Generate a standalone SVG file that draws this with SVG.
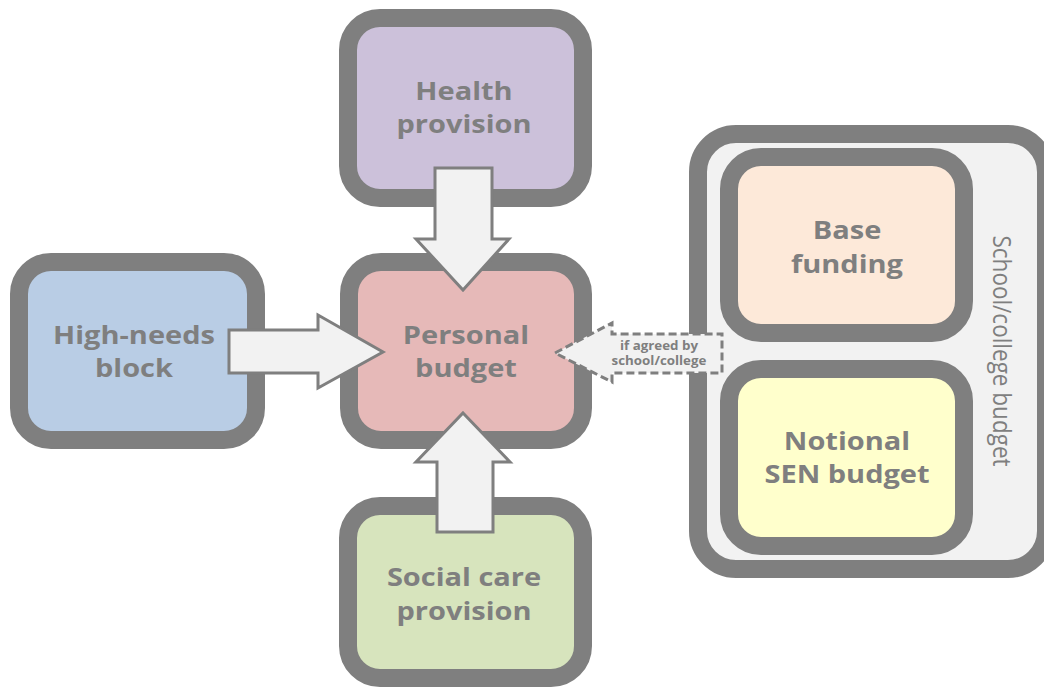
<svg xmlns="http://www.w3.org/2000/svg" width="1044" height="688" viewBox="0 0 1044 688">
<style>
.box{stroke:#7f7f7f;stroke-width:18}
.lbl{font-family:"Open Sans","Liberation Sans",sans-serif;font-weight:bold;font-size:25px;fill:#7f7f7f;text-anchor:middle}
.small{font-family:"Open Sans","Liberation Sans",sans-serif;font-weight:bold;font-size:11.5px;fill:#7f7f7f;text-anchor:middle}
.side{font-family:"Open Sans","Liberation Sans",sans-serif;font-size:22.5px;fill:#7f7f7f;text-anchor:middle}
.arr{fill:#f2f2f2;stroke:#7f7f7f;stroke-width:3;stroke-linejoin:miter}
.dash{fill:#f2f2f2;stroke:#7f7f7f;stroke-width:3;stroke-dasharray:8 4}
</style>
<rect width="1044" height="688" fill="#ffffff"/>
<g id="school-budget">
<rect class="box" x="698" y="134" width="348" height="435" rx="38" fill="#f2f2f2"/>
<g transform="translate(993 351) scale(1.16 1) rotate(90)"><text class="side" x="0" y="0">School/college budget</text></g>
</g>
<g id="base-funding">
<rect class="box" x="729" y="157" width="235" height="176" rx="32" fill="#fde9d9"/>
<g transform="translate(847 0) scale(1.16 1)"><text class="lbl" x="0" y="239">Base</text><text class="lbl" x="0" y="273">funding</text></g>
</g>
<g id="notional-sen">
<rect class="box" x="729" y="369" width="235" height="177" rx="32" fill="#ffffcc"/>
<g transform="translate(847 0) scale(1.16 1)"><text class="lbl" x="0" y="450">Notional</text><text class="lbl" x="0" y="483">SEN budget</text></g>
</g>
<g id="health">
<rect class="box" x="348" y="18" width="235" height="180" rx="32" fill="#ccc1da"/>
<g transform="translate(464 0) scale(1.16 1)"><text class="lbl" x="0" y="100">Health</text><text class="lbl" x="0" y="133">provision</text></g>
</g>
<g id="high-needs">
<rect class="box" x="19" y="262" width="237" height="178" rx="32" fill="#b9cde5"/>
<g transform="translate(134 0) scale(1.16 1)"><text class="lbl" x="0" y="344">High-needs</text><text class="lbl" x="0" y="377">block</text></g>
</g>
<g id="personal">
<rect class="box" x="349" y="262" width="234" height="178" rx="32" fill="#e6b9b8"/>
<g transform="translate(466 0) scale(1.16 1)"><text class="lbl" x="0" y="344">Personal</text><text class="lbl" x="0" y="377">budget</text></g>
</g>
<g id="social-care">
<rect class="box" x="348" y="506" width="235" height="172" rx="32" fill="#d7e4bd"/>
<g transform="translate(464 0) scale(1.16 1)"><text class="lbl" x="0" y="586">Social care</text><text class="lbl" x="0" y="620">provision</text></g>
</g>
<g id="connectors">
<path class="arr" d="M435,168 L492,168 L492,239 L509,239 L463,290 L416,239 L435,239 Z"/>
<path class="arr" d="M229,330 L318,330 L318,315 L383,352 L318,388 L318,373 L229,373 Z"/>
<path class="arr" d="M463,413 L510,462 L493,462 L493,532 L437,532 L437,462 L416,462 Z"/>
<path class="dash" d="M555,353 L612,323 L612,334 L722,334 L722,373 L612,373 L612,382 Z"/>
<g transform="translate(659 0) scale(1.16 1)"><text class="small" x="0" y="350">if agreed by</text><text class="small" x="0" y="365">school/college</text></g>
</g>
</svg>
